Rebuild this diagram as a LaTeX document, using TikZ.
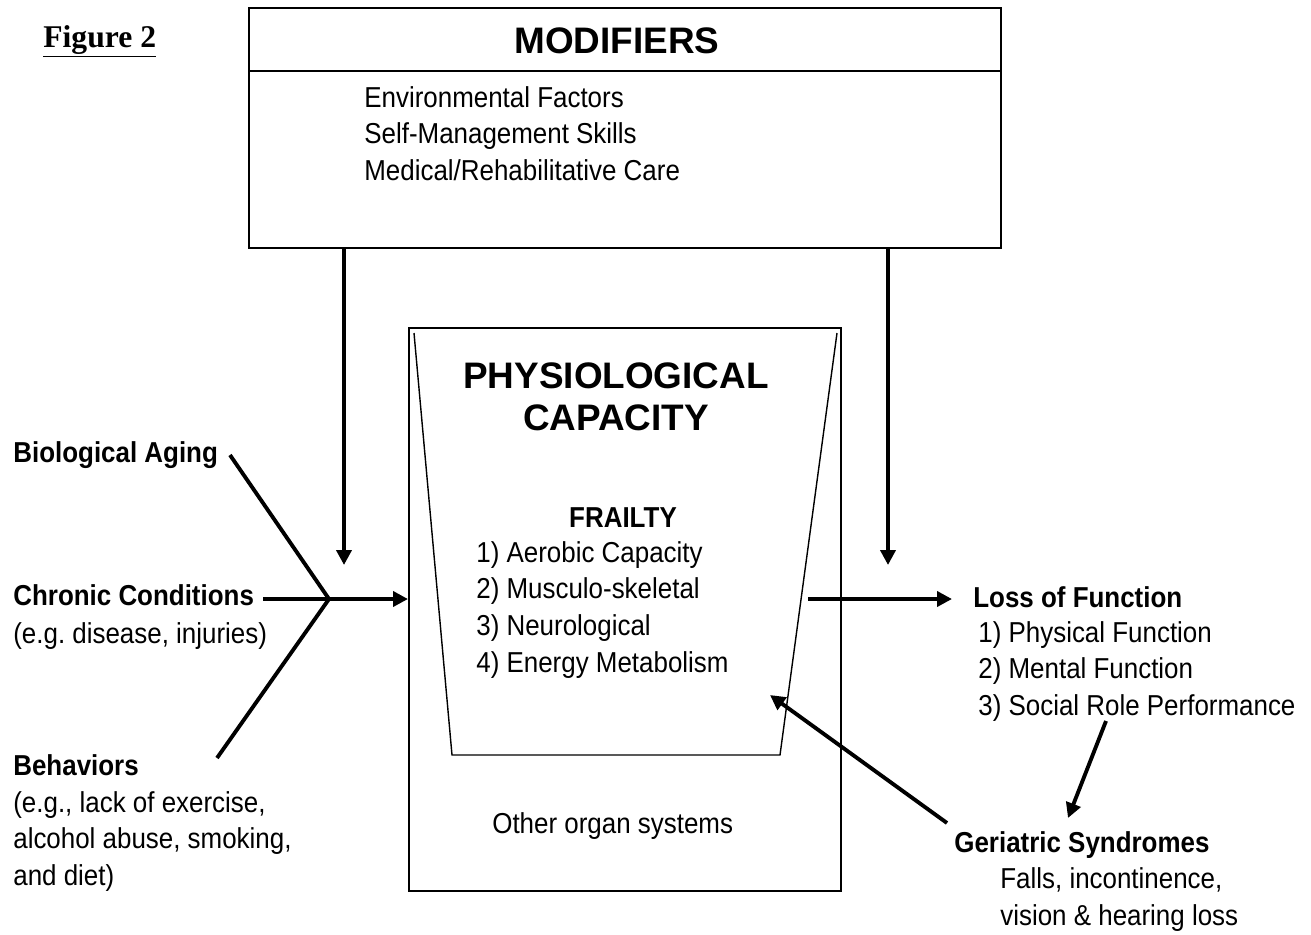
\documentclass[tikz,border=0pt]{standalone}
\usepackage{fontspec}
\setmainfont[FakeStretch=0.9]{Liberation Sans}
\newfontfamily\headfont{Liberation Sans}
\newfontfamily\figfont{Liberation Serif}
\usetikzlibrary{arrows.meta,positioning,calc}

\tikzset{
  txt/.style={inner sep=0pt, anchor=base west, font=\fontsize{16.4}{20}\selectfont},
  btxt/.style={txt, font=\fontsize{16.4}{20}\selectfont\bfseries},
  big/.style={inner sep=0pt, anchor=base, font=\headfont\fontsize{21}{24}\selectfont\bfseries},
  frame/.style={draw, line width=1.1pt, inner sep=0pt, anchor=north west},
  arr/.style={line width=2.2pt, -{Triangle[length=0.3cm,width=0.3cm]}},
  bar/.style={line width=2.2pt}
}

\begin{document}
\frenchspacing
\begin{tikzpicture}[x=0.02cm, y=-0.02cm]
\useasboundingbox (0,0) rectangle (1311,934);

\node[name=fig, inner sep=0pt, anchor=base west, font=\figfont\fontsize{18}{20}\selectfont\bfseries] at (43,47) {\underline{Figure 2}};

% modifiers box
\node[frame, name=mod, minimum width=15.04cm, minimum height=4.8cm] at (248,7) {};
\draw[line width=1.1pt] (mod.north west) ++(0,64) coordinate (divL) -- (divL -| mod.east);
\node[big, name=modT] at (617,53) {MODIFIERS};

\node[txt, name=env] at (364,107) {Environmental Factors};
\node[txt, name=self] at (364,143) {Self-Management Skills};
\node[txt, name=med] at (364,180) {Medical/Rehabilitative Care};

% physiological capacity, with the frailty cup inside
\node[frame, name=phys, minimum width=8.64cm, minimum height=11.26cm] at (408,327) {};
\coordinate (cupTL) at (414,333);
\coordinate (cupBL) at (452,755);
\coordinate (cupBR) at (780,755);
\coordinate (cupTR) at (837,333);
\draw[line width=0.8pt] (cupTL) -- (cupBL) -- (cupBR) -- (cupTR);

\node[big, name=physT] at (616,388) {PHYSIOLOGICAL};
\node[big, name=capT] at (616,430) {CAPACITY};
\node[btxt, anchor=base, name=frail] at (623,527) {FRAILTY};
\node[txt, name=fr1] at (476,562) {1) Aerobic Capacity};
\node[txt, name=fr2] at (476,598) {2) Musculo-skeletal};
\node[txt, name=fr3] at (476,635) {3) Neurological};
\node[txt, name=fr4] at (476,672) {4) Energy Metabolism};
\node[txt, name=other] at (492,833) {Other organ systems};

% causes
\node[btxt, name=bio] at (13,462) {Biological Aging};
\node[btxt, name=chron] at (13,605) {Chronic Conditions};
\node[txt, name=chronEx] at (13,643) {(e.g. disease, injuries)};
\node[btxt, name=beh] at (13,775) {Behaviors};
\node[txt, name=beh1] at (13,812) {(e.g., lack of exercise,};
\node[txt, name=beh2] at (13,848) {alcohol abuse, smoking,};
\node[txt, name=beh3] at (13,885) {and diet)};

% outcomes
\node[btxt, name=loss] at (973,607) {Loss of Function};
\node[txt, name=loss1] at (978,642) {1) Physical Function};
\node[txt, name=loss2] at (978,678) {2) Mental Function};
\node[txt, name=loss3] at (978,715) {3) Social Role Performance};
\node[btxt, name=ger] at (954,852) {Geriatric Syndromes};
\node[txt, name=ger1] at (1000,888) {Falls, incontinence,};
\node[txt, name=ger2] at (1000,925) {vision \& hearing loss};

% connectors
\coordinate (bioEnd) at (230,455);
\coordinate (chronEnd) at (263,599);
\coordinate (behEnd) at (217,758);
\coordinate (join) at (329,599);
\draw[bar] (bioEnd) -- (join);
\draw[bar] (chronEnd) -- (join);
\draw[bar] (behEnd) -- (join);
\draw[arr] (join) -- (join -| phys.west);

\coordinate (modArrL) at (344,565);
\coordinate (modArrR) at (888,565);
\draw[arr] (modArrL |- mod.south) -- (modArrL);
\draw[arr] (modArrR |- mod.south) -- (modArrR);

\coordinate (outS) at (808,599);
\coordinate (outE) at (952,599);
\draw[arr] (outS) -- (outE);

\coordinate (gerS) at (947,823);
\coordinate (gerE) at (770,695);
\draw[arr] (gerS) -- (gerE);

\coordinate (socS) at (1106,721);
\coordinate (socE) at (1068,818);
\draw[arr] (socS) -- (socE);
\end{tikzpicture}
\end{document}
